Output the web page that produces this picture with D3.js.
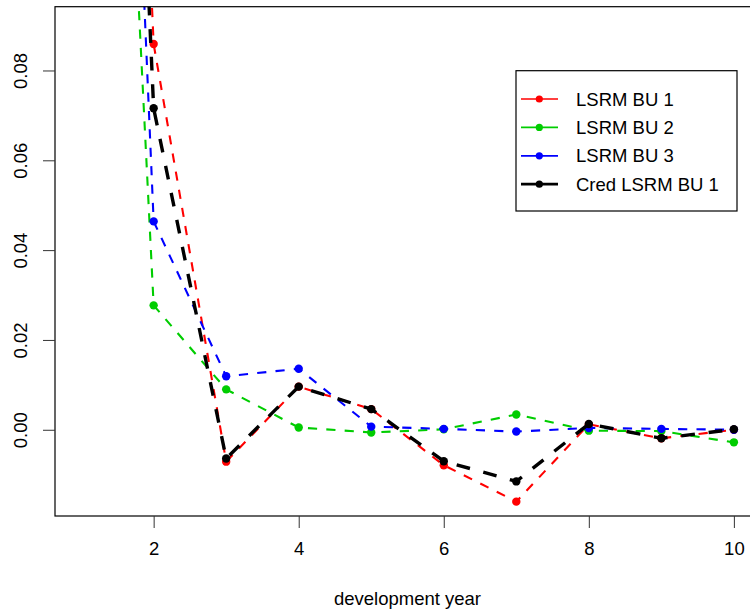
<!DOCTYPE html>
<html>
<head>
<meta charset="utf-8">
<script src="https://cdn.jsdelivr.net/npm/d3@7"></script>
<style>
  body { margin: 0; background: #fff; }
  svg { display: block; font-family: "Liberation Sans", Arial, sans-serif; }
</style>
</head>
<body>
<div id="chart"></div>
<script>
// development years
var years = [1, 2, 3, 4, 5, 6, 7, 8, 9, 10];

// series values (year 1 lies far above the visible range)
var lsrmBu1 = [0.450, 0.0859, -0.0071, 0.0096, 0.0046, -0.0079, -0.0160, 0.0012, -0.0019, 0.0000];
var lsrmBu2 = [0.351, 0.0277, 0.0090, 0.0005, -0.0006, 0.0001, 0.0034, -0.0002, -0.0003, -0.0028];
var lsrmBu3 = [0.423, 0.0464, 0.0119, 0.0136, 0.0007, 0.0002, -0.0004, 0.0004, 0.0002, 0.0000];
var credBu1 = [0.433, 0.0716, -0.0064, 0.0096, 0.0046, -0.0070, -0.0115, 0.0013, -0.0019, 0.0001];

var seriesNames = ["LSRM BU 1", "LSRM BU 2", "LSRM BU 3", "Cred LSRM BU 1"];
var seriesColors = ["#ff0000", "#00cd00", "#0000ff", "#000000"];
var xTicks = [2, 4, 6, 8, 10];
var yTicks = [0.00, 0.02, 0.04, 0.06, 0.08];
var xLimits = [1, 10];
var yLimits = [-0.015, 0.09];

var width = 750, height = 612;
var margin = { top: 6.7, left: 55, bottom: 96 };
var plotRight = 760;

var svg = d3.select("#chart").append("svg")
    .attr("width", width)
    .attr("height", height);

// R style 4% range extension
var xPad = (xLimits[1] - xLimits[0]) * 0.04;
var yPad = (yLimits[1] - yLimits[0]) * 0.04;

var x = d3.scaleLinear()
    .domain([xLimits[0] - xPad, xLimits[1] + xPad])
    .range([margin.left, plotRight]);
var y = d3.scaleLinear()
    .domain([yLimits[0] - yPad, yLimits[1] + yPad])
    .range([height - margin.bottom, margin.top]);

svg.append("clipPath").attr("id", "plotclip")
  .append("rect")
    .attr("x", x.range()[0])
    .attr("y", y.range()[1])
    .attr("width", x.range()[1] - x.range()[0])
    .attr("height", y.range()[0] - y.range()[1]);

var all = [lsrmBu1, lsrmBu2, lsrmBu3, credBu1];
var plot = svg.append("g").attr("clip-path", "url(#plotclip)");

var line = d3.line()
    .x(function (d, i) { return x(years[i]); })
    .y(function (d) { return y(d); });

all.forEach(function (vals, k) {
    var thick = k === 3;
    plot.append("path")
        .attr("d", line(vals))
        .attr("fill", "none")
        .attr("stroke", seriesColors[k])
        .attr("stroke-width", thick ? 3.4 : 2.1)
        .attr("stroke-dasharray", thick ? "13.8,13.8" : "9.2,9.2");
    plot.selectAll(null)
        .data(vals)
        .enter()
        .append("circle")
        .attr("cx", function (d, i) { return x(years[i]); })
        .attr("cy", function (d) { return y(d); })
        .attr("r", 4.2)
        .attr("fill", seriesColors[k]);
});

// box
svg.append("rect")
    .attr("x", x.range()[0])
    .attr("y", y.range()[1])
    .attr("width", x.range()[1] - x.range()[0])
    .attr("height", y.range()[0] - y.range()[1])
    .attr("fill", "none")
    .attr("stroke", "#000")
    .attr("stroke-width", 1.2);

// x axis
var xAxis = svg.append("g")
    .attr("transform", "translate(0," + y.range()[0] + ")")
    .call(d3.axisBottom(x).tickValues(xTicks).tickSize(12).tickPadding(14));
xAxis.select(".domain").remove();
xAxis.selectAll(".tick line").attr("stroke", "#333");
xAxis.selectAll(".tick text")
    .attr("font-size", 18.5)
    .attr("fill", "#000")
    .style("font-family", "Liberation Sans, Arial, sans-serif");

// y axis
var yAxis = svg.append("g")
    .attr("transform", "translate(" + x.range()[0] + ",0)")
    .call(d3.axisLeft(y).tickValues(yTicks).tickSize(12).tickFormat(d3.format(".2f")));
yAxis.select(".domain").remove();
yAxis.selectAll(".tick line").attr("stroke", "#333");
yAxis.selectAll(".tick text")
    .attr("x", null).attr("dy", null)
    .attr("font-size", 18.5)
    .attr("fill", "#000")
    .attr("text-anchor", "middle")
    .attr("transform", "translate(-35,0) rotate(-90)")
    .attr("dominant-baseline", "central")
    .style("font-family", "Liberation Sans, Arial, sans-serif");

// x title
svg.append("text")
    .attr("x", (x(xLimits[0] - xPad) + x(xLimits[1] + xPad)) / 2)
    .attr("y", 598)
    .attr("text-anchor", "middle")
    .attr("dominant-baseline", "central")
    .attr("font-size", 18.5)
    .text("development year");

// legend
var legend = svg.append("g").attr("transform", "translate(516,70.7)");
legend.append("rect")
    .attr("width", 221)
    .attr("height", 140.3)
    .attr("fill", "#fff")
    .attr("stroke", "#000")
    .attr("stroke-width", 1.2);

var rows = legend.selectAll("g.row")
    .data(seriesNames)
    .enter()
    .append("g")
    .attr("class", "row")
    .attr("transform", function (d, i) { return "translate(0," + (28.3 + i * 28.4) + ")"; });
rows.append("line")
    .attr("x1", 5).attr("x2", 42)
    .attr("stroke", function (d, i) { return seriesColors[i]; })
    .attr("stroke-width", function (d, i) { return i === 3 ? 2.7 : 1.7; });
rows.append("circle")
    .attr("cx", 23.3)
    .attr("r", 3.6)
    .attr("fill", function (d, i) { return seriesColors[i]; });
rows.append("text")
    .attr("x", 60)
    .attr("dominant-baseline", "central")
    .attr("font-size", 18.5)
    .text(function (d) { return d; });
</script>
</body>
</html>
